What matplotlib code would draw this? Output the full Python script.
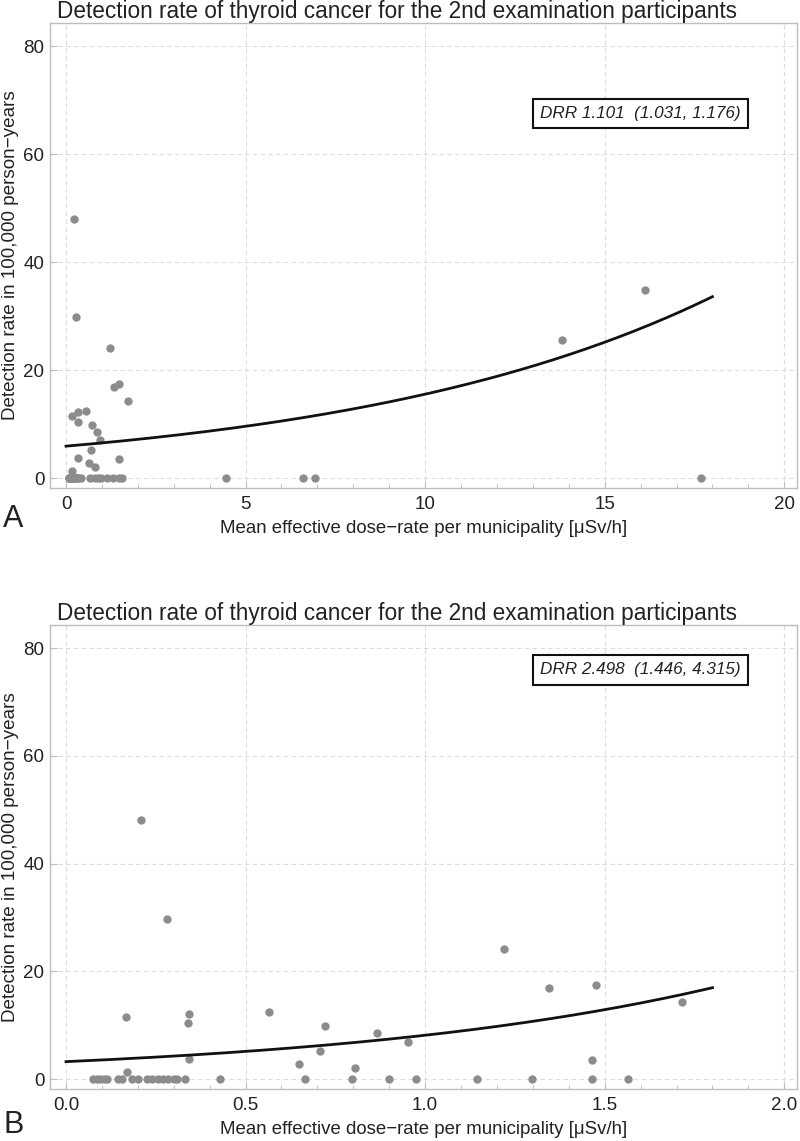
import matplotlib
matplotlib.use("Agg")
import matplotlib.pyplot as plt
import numpy as np

plt.rcParams['font.family'] = ['Liberation Sans', 'DejaVu Sans']

# municipalities with dose-rate < 2 uSv/h (shown in both panels)
dose_low = [0.075, 0.085, 0.095, 0.105, 0.115, 0.145, 0.155, 0.185, 0.20,
            0.225, 0.24, 0.255, 0.27, 0.285, 0.30, 0.31, 0.33, 0.43, 0.665,
            0.795, 0.90, 0.975, 1.144, 1.297, 1.466, 1.565,
            0.209, 0.28, 0.167, 0.339, 0.343, 0.342, 0.17, 0.565, 0.72,
            0.707, 0.648, 0.805, 0.866, 0.951, 1.219, 1.344, 1.477, 1.715, 1.466]
rate_low = [0, 0, 0, 0, 0, 0, 0, 0, 0,
            0, 0, 0, 0, 0, 0, 0, 0, 0, 0,
            0, 0, 0, 0, 0, 0, 0,
            48.1, 29.8, 11.5, 10.4, 12.2, 3.7, 1.4, 12.5, 9.9,
            5.2, 2.9, 2.1, 8.5, 7.0, 24.1, 16.9, 17.5, 14.3, 3.5]
# high dose-rate municipalities (panel A only)
dose_high = [4.45, 6.59, 6.94, 13.81, 16.11, 17.67]
rate_high = [0, 0, 0, 25.6, 34.8, 0]

# fitted model: rate = base * DRR ** dose
drr = [1.101, 2.498]
ci = [(1.031, 1.176), (1.446, 4.315)]
base = [5.95, 3.27]
fit_max = [18.0, 1.8]

title = "Detection rate of thyroid cancer for the 2nd examination participants"
xlab = "Mean effective dose\u2212rate per municipality [\u03bcSv/h]"
ylab = "Detection rate in 100,000 person\u2212years"

fig = plt.figure(figsize=(8, 11.41), dpi=100)
axA = fig.add_axes([0.0625, 0.5723, 0.934, 0.4075])
axB = fig.add_axes([0.0625, 0.0456, 0.934, 0.4067])

panels = [
    (axA, dose_low + dose_high, rate_low + rate_high, (-0.446, 20.36), 5, 1, 0.806, "{:g}"),
    (axB, dose_low, rate_low, (-0.0446, 2.036), 0.5, 0.1, 0.903, "{:.1f}"),
]

for i, (ax, xs, ys, xl, maj, mnr, boxy, fmt) in enumerate(panels):
    ax.plot(xs, ys, 'o', color='#8c8c8c', markersize=6, markeredgewidth=0, zorder=3)
    xx = np.linspace(0, fit_max[i], 200)
    ax.plot(xx, base[i] * drr[i] ** xx, color='#111111', lw=2.0, zorder=4)

    ax.set_xlim(*xl)
    ax.set_ylim(-1.8, 84.3)
    ticks = np.arange(0, xl[1] + 1e-9, maj)
    ax.set_xticks(ticks)
    ax.set_xticklabels([fmt.format(t) for t in ticks])
    ax.set_xticks(np.arange(0, xl[1], mnr), minor=True)
    ax.set_yticks([0, 20, 40, 60, 80])
    ax.grid(True, which='major', color='#dcdcdc', ls=(0, (4, 3)), lw=0.8)
    for s in ax.spines.values():
        s.set_color('#bdbdbd')
        s.set_linewidth(1.0)
    ax.tick_params(axis='both', which='major', labelsize=13.5, colors='#bdbdbd',
                   labelcolor='#222222', direction='in', length=5, width=0.8)
    ax.tick_params(axis='x', which='minor', colors='#bdbdbd', direction='in', length=3, width=0.7)
    ax.tick_params(axis='x', pad=6)
    ax.tick_params(axis='y', pad=4)

    ax.set_title(title, fontsize=16.3, color='#222222', loc='left', x=0.009, pad=3)
    ax.set_xlabel(xlab, fontsize=13.4, color='#222222', labelpad=5)
    ax.set_ylabel(ylab, fontsize=13.6, color='#222222', labelpad=3)

    txt = "DRR %.3f  (%.3f, %.3f)" % (drr[i], ci[i][0], ci[i][1])
    ax.text(0.79, boxy, txt, transform=ax.transAxes, ha='center', va='center',
            fontsize=12.3, color='#222222', fontstyle='italic',
            bbox=dict(boxstyle='square,pad=0.42', fc='white', ec='#111111', lw=1.5))

fig.text(0.004, 0.545, "A", fontsize=22, color='#222222', va='center')
fig.text(0.004, 0.014, "B", fontsize=22, color='#222222', va='center')

fig.savefig("out.png", dpi=100)
